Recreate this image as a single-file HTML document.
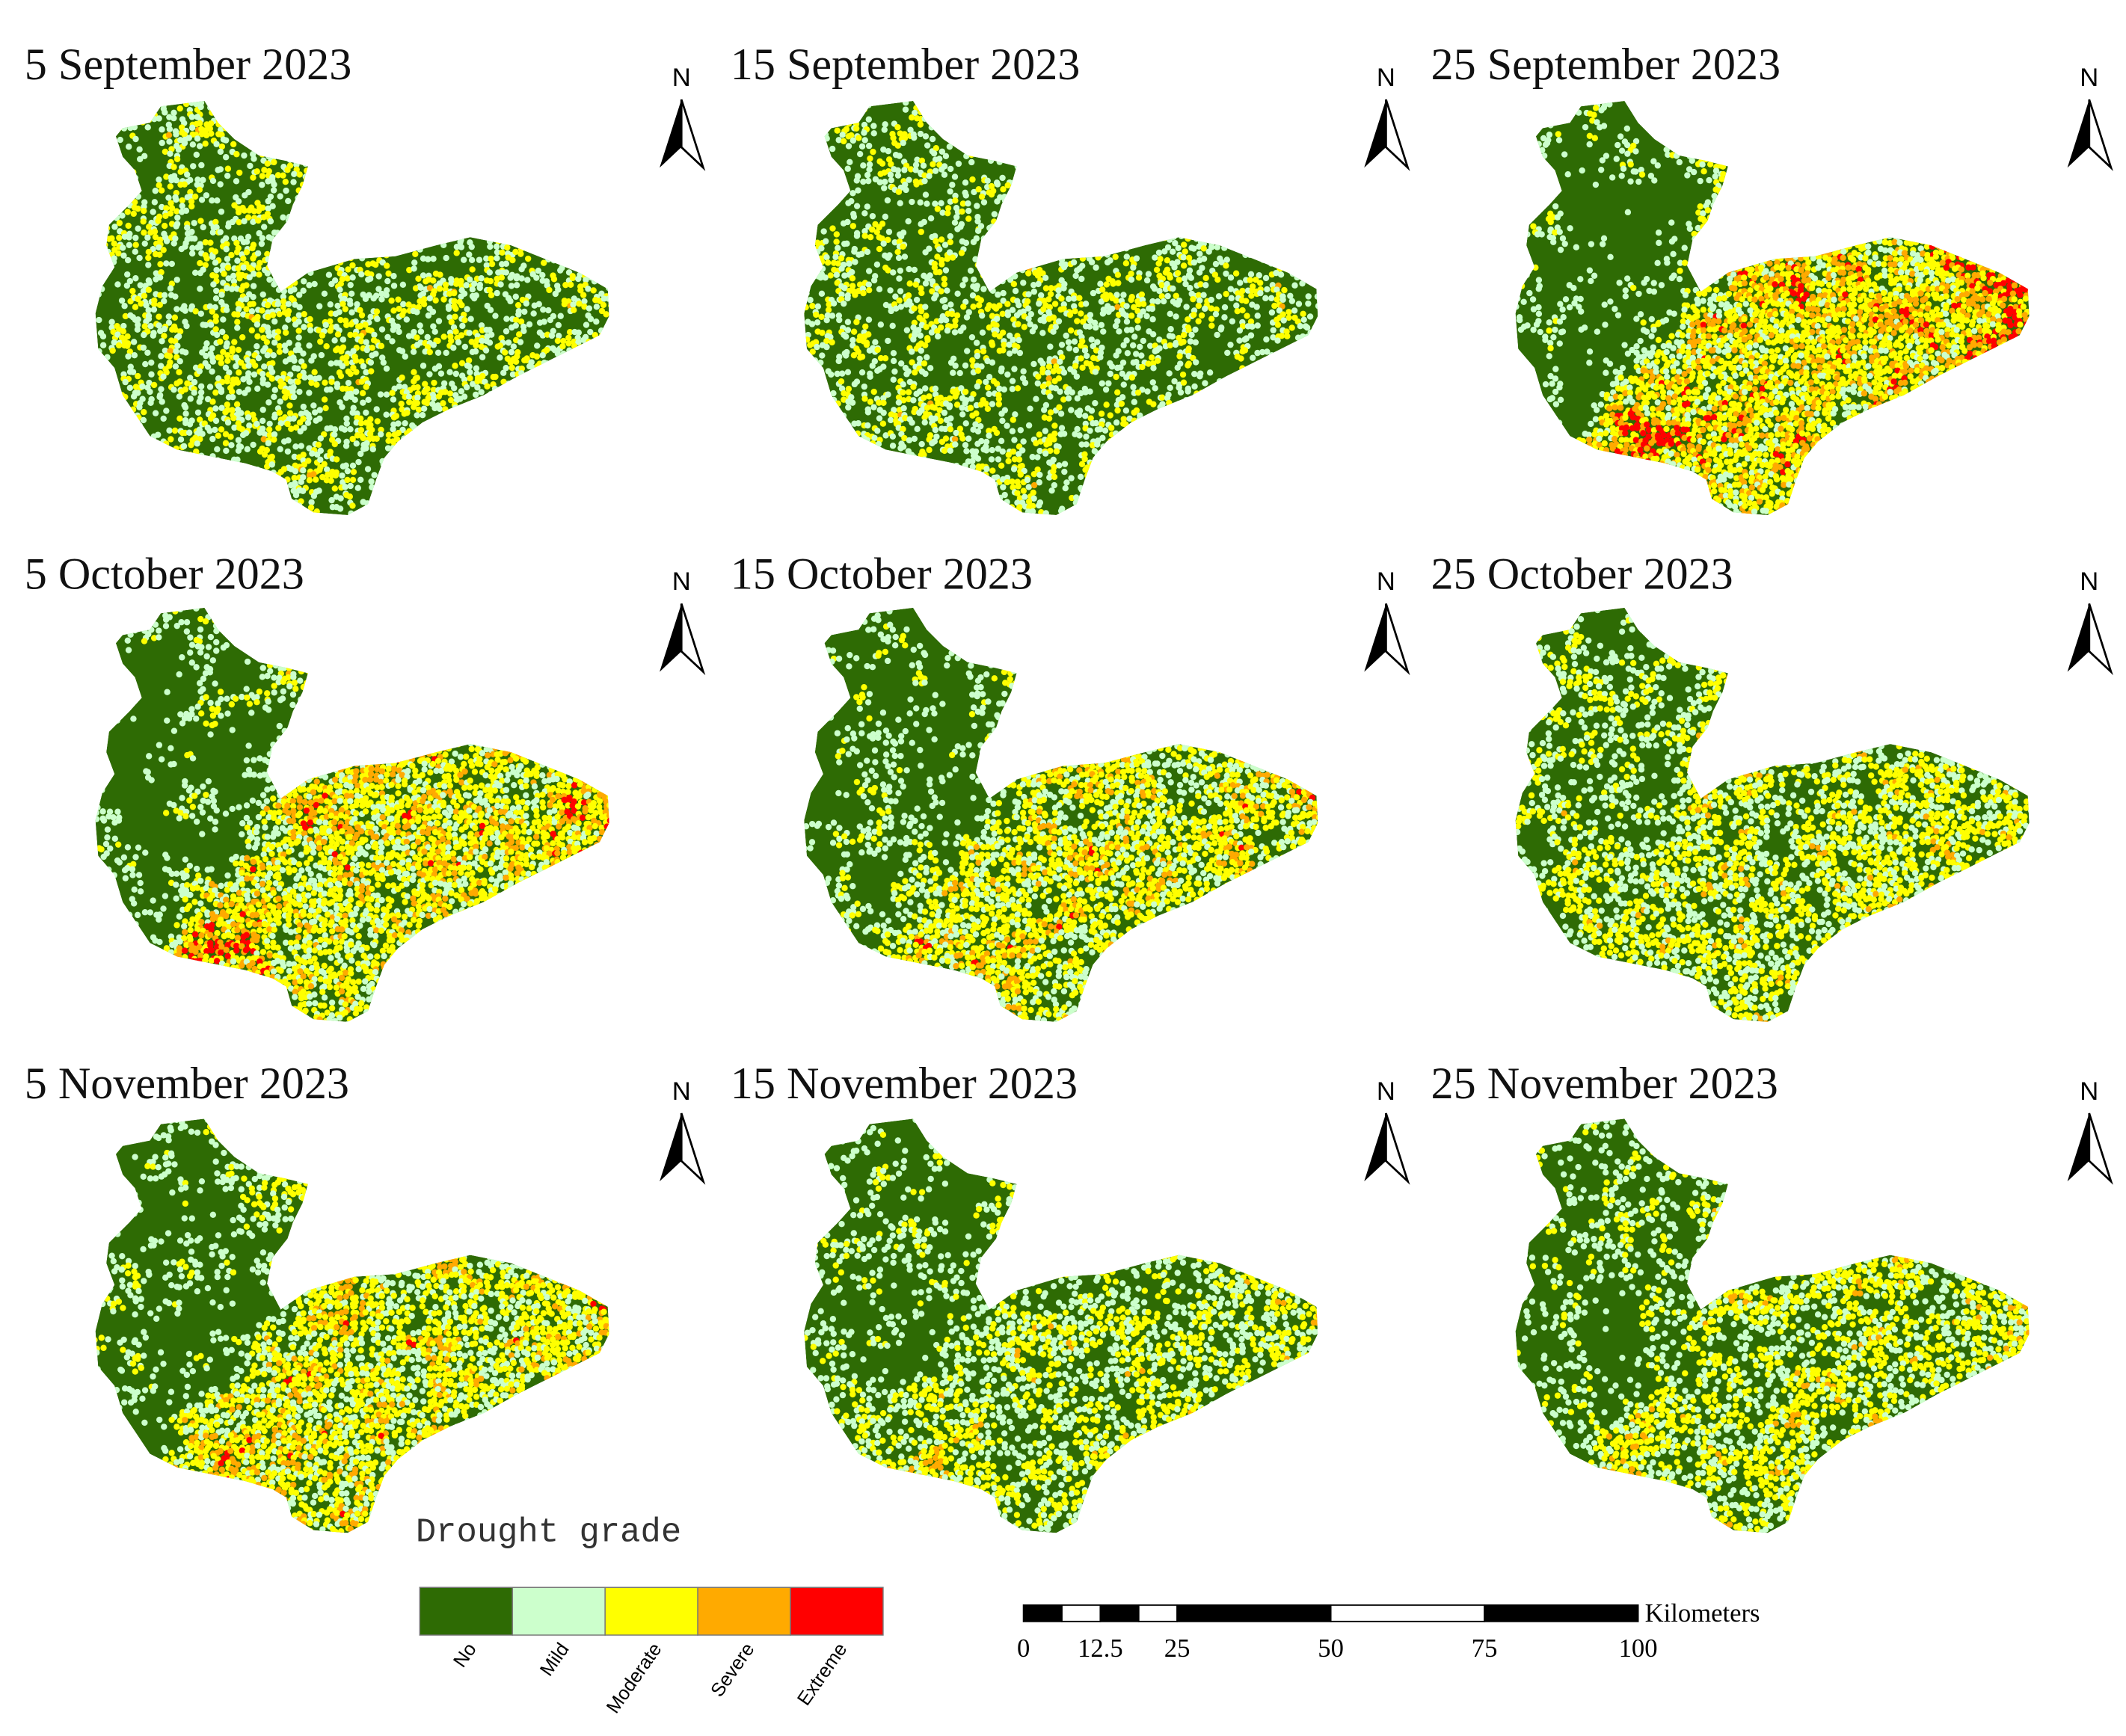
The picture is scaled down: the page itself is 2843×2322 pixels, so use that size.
<!DOCTYPE html>
<html><head><meta charset="utf-8"><style>html,body{margin:0;padding:0;background:#fff}svg{display:block}</style></head>
<body>
<svg id="fig" xmlns="http://www.w3.org/2000/svg" width="2843" height="2322" viewBox="0 0 1560 1274">
<rect width="1560" height="1274" fill="#fff"/>
<defs><clipPath id="shapeClip"><path id="shapePath" d="M118,78 L150,74 L160,90 L172,102 L190,114 L210,118 L226,122 L222,136 L215,150 L211,162 L200,176 L196,195 L206,214 L226,200 L260,190 L290,188 L320,180 L345,174 L375,180 L400,190 L425,200 L446,212 L447,232 L440,246 L420,256 L400,266 L380,276 L355,290 L330,300 L310,310 L292,324 L282,336 L276,352 L270,370 L255,378 L230,376 L214,366 L210,352 L200,346 L180,340 L160,336 L130,330 L110,320 L100,305 L90,290 L84,270 L72,256 L70,230 L75,210 L84,196 L78,180 L80,165 L95,150 L104,140 L99,125 L90,115 L85,100 L90,94 L110,90 Z"/></clipPath></defs>
<g id="panels"></g>
<g>
<text x="305" y="1131" font-family="Liberation Mono, monospace" font-size="25" fill="#333">Drought grade</text>
<g id="legendCells"></g>
</g>
<g id="scalebar"></g>
</svg>
<script>
const NS='http://www.w3.org/2000/svg';
const titles=['5 September 2023','15 September 2023','25 September 2023','5 October 2023','15 October 2023','25 October 2023','5 November 2023','15 November 2023','25 November 2023'];
// dryness per panel
const westDry=[0.44,0.40,0.22,0.24,0.28,0.40,0.30,0.30,0.32];
const eastDry=[0.44,0.42,0.78,0.72,0.64,0.56,0.66,0.50,0.56];
const tipExtra=[0.02,0.0,0.30,0.28,0.08,0.0,0.20,0.16,0.18];
const swExtra=[0.08,0.05,0.18,0.16,0.12,0.08,0.14,0.10,0.08];
const gradeNames=['No','Mild','Moderate','Severe','Extreme'];
const gradeColors=['#2e6b04','#ccffcc','#ffff00','#ffaa00','#ff0000'];
const colDx=[0,520,1042], rowDy=[0,372,747];
const titleX=[18,536,1050], titleY=[58,432,806];

function hash(i,j,k){let h=(i*374761393+j*668265263+k*2147483647)|0;h=(h^(h>>>13))*1274126177|0;h=h^(h>>>16);return ((h>>>0)%10000)/10000;}
function smooth(x,y,k,s){const gx=Math.floor(x/s),gy=Math.floor(y/s),fx=x/s-gx,fy=y/s-gy;
 const a=hash(gx,gy,k),b=hash(gx+1,gy,k),c=hash(gx,gy+1,k),d=hash(gx+1,gy+1,k);
 const ux=fx*fx*(3-2*fx),uy=fy*fy*(3-2*fy);return a+(b-a)*ux+(c-a)*uy+(a-b-c+d)*ux*uy;}

const panels=document.getElementById('panels');
for(let p=0;p<9;p++){
 const c=p%3,r=Math.floor(p/3),dx=colDx[c],dy=rowDy[r];
 const g=document.createElementNS(NS,'g');
 
 
 const t=document.createElementNS(NS,'text');
 
 
 t.setAttribute('x',titleX[c]);t.setAttribute('y',titleY[r]);
 t.setAttribute('font-family','Liberation Serif, serif');t.setAttribute('font-size','33');t.setAttribute('fill','#111');
 t.textContent=titles[p];g.appendChild(t);
 const na=document.createElementNS(NS,'g');
 
 
 const ax=[500,1017,1533][c], ay=[56,426,800][r];
 na.innerHTML=`<text x="${ax}" y="${ay+7}" text-anchor="middle" font-family="Liberation Sans, sans-serif" font-size="19" fill="#000">N</text>
 <polygon points="${ax},${ay+17} ${ax-16},${ay+67} ${ax},${ay+52}" fill="#000"/>
 <polygon points="${ax},${ay+17} ${ax+16},${ay+67} ${ax},${ay+52}" fill="#fff" stroke="#000" stroke-width="1.5"/>`;
 g.appendChild(na);
 const mg=document.createElementNS(NS,'g');
 
 
 mg.setAttribute('transform',`translate(${dx},${dy})`);
 mg.setAttribute('clip-path','url(#shapeClip)');
 const base=document.createElementNS(NS,'use');
 base.setAttribute('href','#shapePath');base.setAttribute('fill',gradeColors[0]);
 mg.appendChild(base);
 let html='';
 const step=3.8;
 for(let y=72;y<382;y+=step){for(let x=68;x<450;x+=step){
  const i=Math.round(x/step),j=Math.round(y/step);
  const jx=x+(hash(i,j,p*7+1)-0.5)*3, jy=y+(hash(i,j,p*7+2)-0.5)*3;
  const bound = jy<200 ? 212 : 212-(jy-200)*0.75;
  const w = Math.max(0,Math.min(1,(jx-bound+20)/40));
  let d = westDry[p]*(1-w)+eastDry[p]*w;
  d += tipExtra[p]*Math.max(0,(jx-380)/65);
  d += swExtra[p]*Math.max(0,1-Math.hypot(jx-160,jy-330)/70)*w*1.5;
  const n = 0.6*(smooth(jx,jy,p*3+5,14)-0.5)+0.6*(hash(i,j,p*11+3)-0.5);
  const v=d+n;
  let k=0;
  if(v>1.16)k=4;else if(v>0.94)k=3;else if(v>0.64)k=2;else if(v>0.46)k=1;
  if(k>0){html+=`<circle cx="${jx.toFixed(1)}" cy="${jy.toFixed(1)}" r="2.3" fill="${gradeColors[k]}"/>`;}
 }}
 mg.insertAdjacentHTML('beforeend',html);
 g.appendChild(mg);
 panels.appendChild(g);
}
const lc=document.getElementById('legendCells');
for(let k=0;k<5;k++){
 const x=308+k*68;
 const rc=document.createElementNS(NS,'rect');
 
 
 rc.setAttribute('x',x);rc.setAttribute('y',1165);rc.setAttribute('width',68);rc.setAttribute('height',35);
 rc.setAttribute('fill',gradeColors[k]);rc.setAttribute('stroke','#777');rc.setAttribute('stroke-width','0.8');
 lc.appendChild(rc);
 const tx=document.createElementNS(NS,'text');
 
 
 const lx=x+42,ly=1210;
 tx.setAttribute('x',lx);tx.setAttribute('y',ly);tx.setAttribute('text-anchor','end');
 tx.setAttribute('transform',`rotate(-55 ${lx} ${ly})`);
 tx.setAttribute('font-family','Liberation Sans, sans-serif');tx.setAttribute('font-size','14');
 tx.textContent=gradeNames[k];lc.appendChild(tx);
}
const sb=document.getElementById('scalebar');
const kmTicks=[0,12.5,25,50,75,100];
const segs=[0,6.25,12.5,18.75,25,50,75,100];
const sx=v=>751+v*4.51;
let sh='';
for(let i=0;i<segs.length-1;i++){
 sh+=`<rect x="${sx(segs[i])}" y="1178" width="${sx(segs[i+1])-sx(segs[i])}" height="12" fill="${i%2===0?'#000':'#fff'}" stroke="#000" stroke-width="1"/>`;
}
kmTicks.forEach(v=>{sh+=`<text x="${sx(v)}" y="1216" text-anchor="middle" font-family="Liberation Serif, serif" font-size="19">${v}</text>`;});
sh+=`<text x="1207" y="1190" font-family="Liberation Serif, serif" font-size="19">Kilometers</text>`;
sb.innerHTML=sh;
</script>
</body></html>
